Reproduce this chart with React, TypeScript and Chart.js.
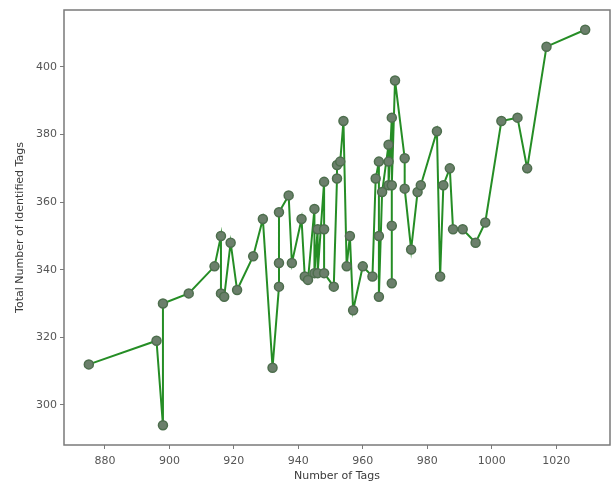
import { useEffect, useRef } from 'react';
import { Chart, registerables } from 'chart.js';

Chart.register(...registerables);

const numberOfTags = [
  875, 896, 898, 898, 906, 914, 916, 916, 917, 919, 921, 926, 929, 932,
  934, 934, 934, 937, 938, 941, 942, 943, 945, 945, 946, 946, 948, 948,
  948, 951, 952, 952, 953, 954, 955, 956, 957, 960, 963, 964, 965, 965,
  965, 966, 968, 968, 968, 969, 969, 969, 969, 970, 973, 973, 975, 977,
  978, 983, 984, 985, 987, 988, 991, 995, 998, 1003, 1008, 1011, 1017, 1029,
];
const identifiedTags = [
  312, 319, 294, 330, 333, 341, 350, 333, 332, 348, 334, 344, 355, 311,
  335, 342, 357, 362, 342, 355, 338, 337, 358, 339, 352, 339, 366, 352,
  339, 335, 367, 371, 372, 384, 341, 350, 328, 341, 338, 367, 372, 350,
  332, 363, 377, 372, 365, 385, 353, 336, 365, 396, 373, 364, 346, 363,
  365, 381, 338, 365, 370, 352, 352, 348, 354, 384, 385, 370, 406, 411,
];
const xTicks = [880, 900, 920, 940, 960, 980, 1000, 1020];
const yTicks = [300, 320, 340, 360, 380, 400];

const frame = {
  id: 'frame',
  afterDraw(chart: any) {
    const { ctx, chartArea } = chart;
    ctx.save();
    ctx.strokeStyle = '#7a7a7a';
    ctx.lineWidth = 1.5;
    ctx.strokeRect(chartArea.left, chartArea.top, chartArea.right - chartArea.left, chartArea.bottom - chartArea.top);
    ctx.restore();
  },
};

export default function App() {
  const ref = useRef<HTMLCanvasElement>(null);
  useEffect(() => {
    if (!ref.current) return;
    const font = { family: '"DejaVu Sans", sans-serif', size: 11 };
    const chart = new Chart(ref.current, {
      type: 'scatter',
      data: {
        datasets: [
          {
            data: numberOfTags.map((x, i) => ({ x, y: identifiedTags[i] })),
            showLine: true,
            borderColor: 'rgba(25,135,25,0.95)',
            borderWidth: 2,
            pointRadius: 4.5,
            pointBorderWidth: 1.5,
            pointBackgroundColor: '#6b7f6b',
            pointBorderColor: '#4d6e4d',
          },
        ],
      },
      options: {
        animation: false,
        responsive: false,
        layout: { padding: { top: 10, right: 3, left: 0, bottom: 0 } },
        plugins: { legend: { display: false }, tooltip: { enabled: false } },
        scales: {
          x: {
            type: 'linear',
            min: 867.3,
            max: 1036.7,
            afterBuildTicks: (s: any) => { s.ticks = xTicks.map((v) => ({ value: v })); },
            afterFit: (s: any) => { s.height = 38; },
            grid: { drawOnChartArea: false, drawTicks: true, tickLength: 4, color: '#7a7a7a' },
            border: { display: false },
            ticks: { color: '#555', font, padding: 6, maxRotation: 0, callback: (v: any) => String(v) },
            title: { display: true, text: 'Number of Tags', color: '#3a3a3a', font, padding: { top: 0, bottom: 0 } },
          },
          y: {
            type: 'linear',
            min: 288.15,
            max: 416.85,
            afterBuildTicks: (s: any) => { s.ticks = yTicks.map((v) => ({ value: v })); },
            afterFit: (s: any) => { s.width = 64; },
            grid: { drawOnChartArea: false, drawTicks: true, tickLength: 4, color: '#7a7a7a' },
            border: { display: false },
            ticks: { color: '#555', font, padding: 3, callback: (v: any) => String(v) },
            title: { display: true, text: 'Total Number of Identified Tags', color: '#3a3a3a', font, padding: { top: 14, bottom: 0 } },
          },
        },
      },
      plugins: [frame],
    });
    return () => chart.destroy();
  }, []);
  return (
    <div style={{ position: 'absolute', left: 0, top: 0, width: 616, height: 483, background: '#fff' }}>
      <canvas ref={ref} width={616} height={483} />
    </div>
  );
}
